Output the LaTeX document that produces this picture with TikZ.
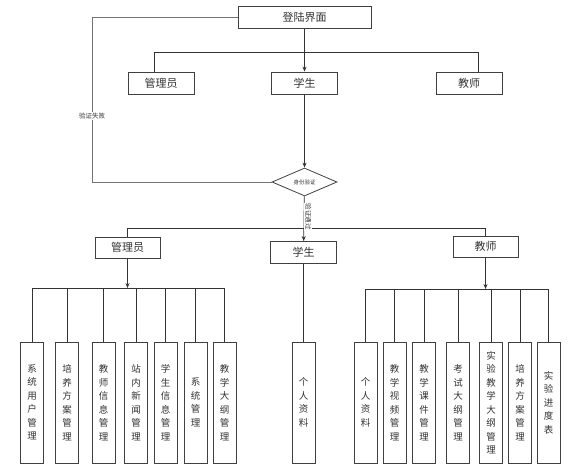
\documentclass[tikz,border=0pt]{standalone}
\usepackage{fontspec}
\newfontfamily\cjk{Noto Sans CJK SC}
\usepackage{tikz}
\usetikzlibrary{shapes.geometric, arrows.meta, positioning, calc}

\begin{document}
\begin{tikzpicture}[x=1pt, y=-1pt,
    box/.style={draw=black!75, line width=0.8pt, fill=white, minimum width=66pt, minimum height=22pt, inner sep=0pt, text=black!80, font=\cjk\fontsize{11}{13}\selectfont},
    leaf/.style={draw=black!75, line width=0.8pt, fill=white, minimum width=23pt, minimum height=121pt, inner sep=0pt, align=center, text=black!80, font=\cjk\fontsize{9.5}{13.5}\selectfont},
    chk/.style={draw=black!75, line width=0.8pt, fill=white, diamond, minimum width=65pt, minimum height=28pt, inner sep=0pt, text=black!80, font=\cjk\fontsize{5.5}{6}\selectfont},
    lbl/.style={font=\cjk\fontsize{6.5}{7}\selectfont, text=black!80, fill=white, inner sep=1pt},
    ln/.style={draw=black!80, line width=0.7pt},
    arr/.style={ln, -{Stealth[length=5pt, width=4pt]}},
]
\useasboundingbox (0,0) rectangle (570,472);

% Login and roles
\node[box, minimum width=133pt] (login) at (304.5,17.5) {登陆界面};
\node[box] (admin) at (161,83) {管理员};
\node[box] (student) at (304.5,83) {学生};
\node[box] (teacher) at (469,83) {教师};

% Check
\node[chk] (check) at (304.5,182) {身份验证};

% Roles after check
\node[box, minimum width=65pt, minimum height=21pt] (admin2) at (127.5,247.5) {管理员};
\node[box] (student2) at (303.5,252.5) {学生};
\node[box, minimum width=65pt, minimum height=21pt] (teacher2) at (485.5,246.5) {教师};

% Admin functions
\foreach \name/\x/\txt in {a1/32/{系\\统\\用\\户\\管\\理}, a2/67/{培\\养\\方\\案\\管\\理},
    a3/103.5/{教\\师\\信\\息\\管\\理}, a4/136/{站\\内\\新\\闻\\管\\理},
    a5/165.5/{学\\生\\信\\息\\管\\理}, a6/195.5/{系\\统\\管\\理}, a7/224.5/{教\\学\\大\\纲\\管\\理}}
    \node[leaf] (\name) at (\x,402.5) {\txt};

% Student function
\node[leaf] (s1) at (303.5,402.5) {个\\人\\资\\料};

% Teacher functions
\foreach \name/\x/\txt in {t1/365.5/{个\\人\\资\\料}, t2/394.5/{教\\学\\视\\频\\管\\理},
    t3/424/{教\\学\\课\\件\\管\\理}, t4/458/{考\\试\\大\\纲\\管\\理},
    t5/491/{实\\验\\教\\学\\大\\纲\\管\\理}, t6/520/{培\\养\\方\\案\\管\\理}, t7/548.5/{实\\验\\进\\度\\表}}
    \node[leaf] (\name) at (\x,402.5) {\txt};

% Login to roles
\draw[arr] (login) -- (student);
\coordinate (tl) at (154,52);
\coordinate (tr) at (478,52);
\draw[ln] (admin.north -| tl) -- (tl) -- (tr) -- (teacher.north -| tr);
\draw[arr] (student) -- (check);

% Failed check back to login
\coordinate (fail) at (92,182);
\draw[ln, draw=black!55] (check.west) -- (fail) |- node[pos=0.2, lbl] {验证失败} (login.west);

% Passed check
\draw[ln] (admin2.north) -- ++(0,-8) -| (teacher2.north);
\draw[arr] (check) -- (student2) node[pos=0.46, lbl, rotate=-90, anchor=south] {验证通过};

% Admin branch
\coordinate (abar) at (admin2.south |- 0,288);
\draw[arr] (admin2) -- (abar);
\draw[ln] (a1.north |- abar) -- (a7.north |- abar);
\foreach \i in {1,...,7} \draw[ln] (a\i.north) -- (a\i.north |- abar);

% Student branch
\draw[ln] (student2) -- (s1);

% Teacher branch
\coordinate (tbar) at (teacher2.south |- 0,289);
\draw[arr] (teacher2) -- (tbar);
\draw[ln] (t1.north |- tbar) -- (t7.north |- tbar);
\foreach \i in {1,...,7} \draw[ln] (t\i.north) -- (t\i.north |- tbar);

\end{tikzpicture}
\end{document}
